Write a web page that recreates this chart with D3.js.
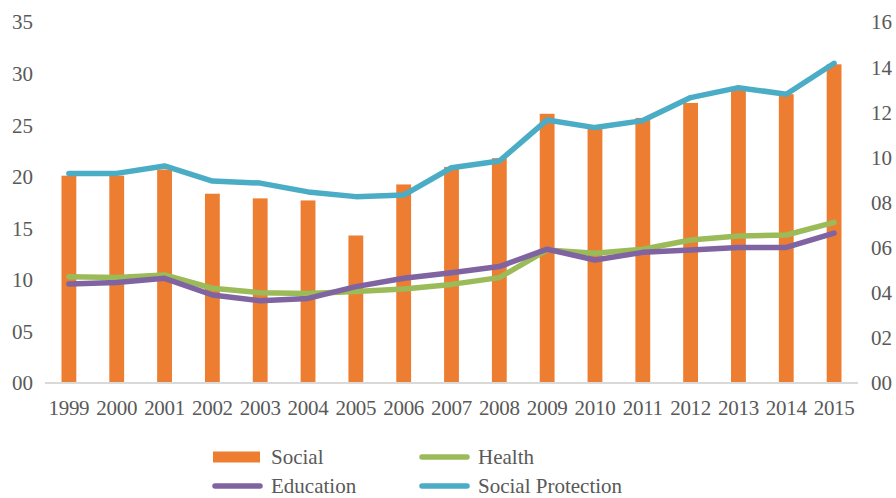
<!DOCTYPE html>
<html>
<head>
<meta charset="utf-8">
<script src="https://cdn.jsdelivr.net/npm/d3@7/dist/d3.min.js"></script>
<style>
  html, body { margin: 0; padding: 0; background: #fff; }
  svg { display: block; }
  text { font-family: "Liberation Serif", "Times New Roman", serif; fill: #595959; }
</style>
</head>
<body>
<svg id="chart" width="896" height="498"></svg>
<script>
// Years along the x axis
const years = ["1999","2000","2001","2002","2003","2004","2005","2006","2007","2008",
               "2009","2010","2011","2012","2013","2014","2015"];

// Bars (left axis)
const social = [20.1, 20.1, 20.7, 18.35, 17.9, 17.7, 14.3, 19.25, 20.95, 21.8,
                26.1, 24.7, 25.7, 27.15, 28.4, 28.0, 30.9];

// Lines (right axis)
const health = [4.71, 4.68, 4.79, 4.20, 4.00, 3.97, 4.05, 4.17, 4.37, 4.67,
                5.90, 5.75, 5.93, 6.34, 6.52, 6.56, 7.12];
const education = [4.39, 4.45, 4.64, 3.90, 3.65, 3.75, 4.27, 4.64, 4.89, 5.16,
                   5.93, 5.45, 5.79, 5.90, 6.01, 6.01, 6.64];
const socialProtection = [9.29, 9.29, 9.62, 8.95, 8.86, 8.47, 8.26, 8.33, 9.54, 9.84,
                          11.66, 11.32, 11.63, 12.65, 13.09, 12.80, 14.17];

// Tick values and their printed labels
const leftTicks = [0, 5, 10, 15, 20, 25, 30, 35];
const leftTickLabels = ["00", "05", "10", "15", "20", "25", "30", "35"];
const rightTicks = [0, 2, 4, 6, 8, 10, 12, 14, 16];
const rightTickLabels = ["00", "02", "04", "06", "08", "10", "12", "14", "16"];

const colors = {
  social: "#ED7D31",
  health: "#9BBB59",
  education: "#8064A2",
  socialProtection: "#4BACC6"
};

const svg = d3.select("#chart");
const plot = { left: 45, right: 858, top: 22, bottom: 383 };

const x = d3.scaleBand().domain(years).range([plot.left, plot.right]).padding(0);
const yLeft = d3.scaleLinear().domain([0, 35]).range([plot.bottom, plot.top]);
const yRight = d3.scaleLinear().domain([0, 16]).range([plot.bottom, plot.top]);

const barFrac = 0.31;
const barW = x.bandwidth() * barFrac;
const cx = d => x(d) + x.bandwidth() / 2;

// Bars
svg.append("g").selectAll("rect")
  .data(years.map((y, i) => ({ year: y, v: social[i] })))
  .join("rect")
  .attr("x", d => cx(d.year) - barW / 2)
  .attr("width", barW)
  .attr("y", d => yLeft(d.v))
  .attr("height", d => yLeft(0) - yLeft(d.v))
  .attr("fill", colors.social);

// Baseline
svg.append("line")
  .attr("x1", plot.left).attr("x2", plot.right)
  .attr("y1", yLeft(0)).attr("y2", yLeft(0))
  .attr("stroke", "#d9d9d9").attr("stroke-width", 2);

// Lines
const line = d3.line()
  .x((d, i) => cx(years[i]))
  .y(d => yRight(d));

[["health", health], ["education", education], ["socialProtection", socialProtection]]
  .forEach(([key, vals]) => {
    svg.append("path")
      .datum(vals)
      .attr("d", line)
      .attr("fill", "none")
      .attr("stroke", colors[key])
      .attr("stroke-width", 5.5)
      .attr("stroke-linejoin", "round")
      .attr("stroke-linecap", "round");
  });

// Left axis
const leftAxis = d3.axisLeft(yLeft)
  .tickValues(leftTicks)
  .tickFormat((d, i) => leftTickLabels[i])
  .tickSize(0).tickPadding(0);
const gL = svg.append("g").attr("transform", "translate(33,0)").call(leftAxis);
gL.select(".domain").remove();
gL.selectAll("text")
  .attr("font-size", 21)
  .attr("fill", "#595959")
  .attr("dy", "0.33em");

// Right axis
const rightAxis = d3.axisRight(yRight)
  .tickValues(rightTicks)
  .tickFormat((d, i) => rightTickLabels[i])
  .tickSize(0).tickPadding(0);
const gR = svg.append("g").attr("transform", "translate(871,0)").call(rightAxis);
gR.select(".domain").remove();
gR.selectAll("text")
  .attr("font-size", 21)
  .attr("fill", "#595959")
  .attr("dy", "0.33em");

// Bottom axis
const bottomAxis = d3.axisBottom(x).tickSize(0).tickPadding(0);
const gB = svg.append("g").attr("transform", `translate(0,${plot.bottom + 19})`).call(bottomAxis);
gB.select(".domain").remove();
gB.selectAll("text")
  .attr("font-size", 21)
  .attr("fill", "#595959")
  .attr("letter-spacing", "-0.3")
  .attr("dy", "0.6em");

// Legend (two rows, two columns)
const legendItems = [
  { label: "Social", key: "social", type: "bar", x: 213, y: 457 },
  { label: "Health", key: "health", type: "line", x: 420, y: 457 },
  { label: "Education", key: "education", type: "line", x: 213, y: 486 },
  { label: "Social Protection", key: "socialProtection", type: "line", x: 420, y: 486 }
];
const lg = svg.append("g");
legendItems.forEach(it => {
  if (it.type === "bar") {
    lg.append("rect")
      .attr("x", it.x).attr("y", it.y - 5.5)
      .attr("width", 47).attr("height", 11)
      .attr("fill", colors[it.key]);
  } else {
    lg.append("line")
      .attr("x1", it.x + 2).attr("x2", it.x + 47)
      .attr("y1", it.y).attr("y2", it.y)
      .attr("stroke", colors[it.key])
      .attr("stroke-width", 5.5)
      .attr("stroke-linecap", "round");
  }
  lg.append("text")
    .attr("x", it.x + 58).attr("y", it.y)
    .attr("dy", "0.33em")
    .attr("font-size", 21)
    .text(it.label);
});
</script>
</body>
</html>
